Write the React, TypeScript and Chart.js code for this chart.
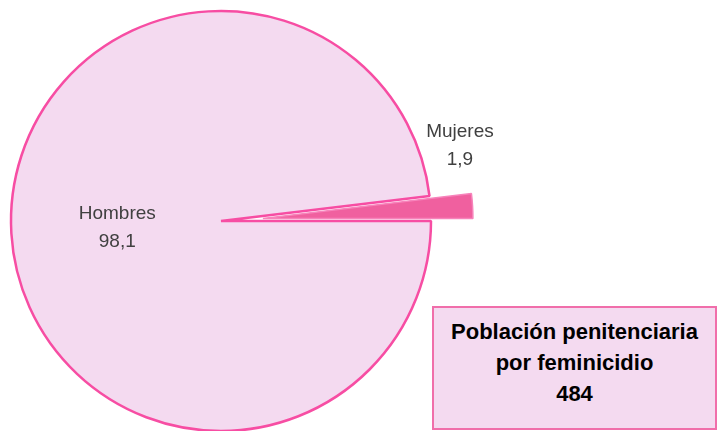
import React, { useEffect, useRef } from 'react';
import { Chart, registerables } from 'chart.js';

Chart.register(...registerables);

const categories = ['Hombres', 'Mujeres'];
const values = [98.1, 1.9];
const valueLabels = ['98,1', '1,9'];
const sliceColors = ['#f4daf0', '#f0609f'];
const sliceBorders = ['#f74da3', '#f783bb'];
const explode = [0, 42];
const boxLines = ['Población penitenciaria', 'por feminicidio', '484'];

const explodePlugin = {
  id: 'explodeSlices',
  afterDatasetUpdate(chart: any, args: any) {
    const meta = chart.getDatasetMeta(args.index);
    meta.data.forEach((arc: any, i: number) => {
      const d = explode[i] || 0;
      if (!d) return;
      const mid = (arc.startAngle + arc.endAngle) / 2;
      arc.x += Math.cos(mid) * d;
      arc.y += Math.sin(mid) * d;
    });
  },
};

const labelPlugin = {
  id: 'sliceLabels',
  afterDatasetsDraw(chart: any) {
    const meta = chart.getDatasetMeta(0);
    const ctx = chart.ctx;
    ctx.save();
    ctx.font = '19px "Liberation Sans", Arial, sans-serif';
    ctx.fillStyle = '#404040';
    ctx.textAlign = 'center';
    ctx.textBaseline = 'middle';
    const lineH = 28;
    const base = meta.data[0];
    meta.data.forEach((arc: any, i: number) => {
      let cx: number, cy: number;
      if (i === 0) {
        const mid = (arc.startAngle + arc.endAngle) / 2;
        cx = arc.x + Math.cos(mid) * arc.outerRadius * 0.495;
        cy = arc.y + Math.sin(mid) * arc.outerRadius * 0.495 + 1;
      } else {
        cx = base.x + base.outerRadius * 1.138;
        cy = base.y - base.outerRadius * 0.36;
      }
      ctx.fillText(categories[i], cx, cy - lineH / 2);
      ctx.fillText(valueLabels[i], cx, cy + lineH / 2);
    });
    ctx.restore();
  },
};

export default function App() {
  const ref = useRef<HTMLCanvasElement | null>(null);
  useEffect(() => {
    document.body.style.margin = '0';
    document.body.style.overflow = 'hidden';
    const chart = new Chart(ref.current as HTMLCanvasElement, {
      type: 'pie',
      data: {
        labels: categories,
        datasets: [
          {
            data: values,
            backgroundColor: sliceColors,
            borderColor: sliceBorders,
            borderWidth: [2.5, 1.5],
            clip: false,
          } as any,
        ],
      },
      options: {
        responsive: false,
        animation: false,
        events: [],
        rotation: 90,
        radius: 210,
        layout: { padding: { left: 0, top: 0, right: 278, bottom: 0 } },
        plugins: {
          legend: { display: false },
          tooltip: { enabled: false },
        },
      } as any,
      plugins: [explodePlugin, labelPlugin],
    });
    return () => chart.destroy();
  }, []);

  return (
    <div style={{ position: 'relative', width: 720, height: 431, overflow: 'hidden', background: '#fff' }}>
      <canvas ref={ref} width={720} height={442} style={{ position: 'absolute', left: 0, top: 0, width: 720, height: 442 }} />
      <div
        style={{
          position: 'absolute',
          left: 432,
          top: 306,
          width: 285,
          height: 124,
          background: '#f4daf0',
          border: '2px solid #f06eaa',
          display: 'flex',
          flexDirection: 'column',
          alignItems: 'center',
          justifyContent: 'center',
          fontFamily: '"Liberation Sans", Arial, sans-serif',
          fontWeight: 'bold',
          fontSize: 22,
          lineHeight: '31px',
          color: '#000',
          paddingBottom: 12,
          boxSizing: 'border-box',
        }}
      >
        {boxLines.map((t) => (
          <div key={t}>{t}</div>
        ))}
      </div>
    </div>
  );
}
